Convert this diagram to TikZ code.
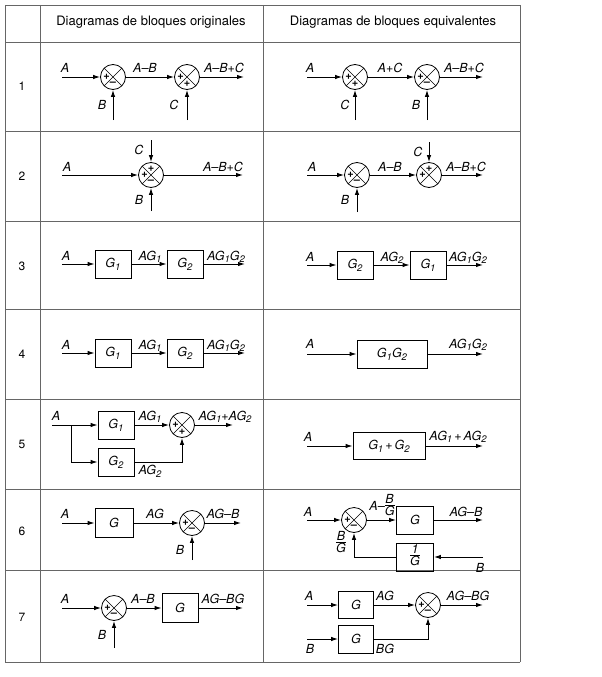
\documentclass[tikz,border=0pt]{standalone}
\usepackage{fontspec}
\setmainfont{TeX Gyre Heros}
\usetikzlibrary{arrows.meta,calc}
\newcommand\sbs[1]{\raisebox{-0.45ex}{\fontsize{9.5}{10}\selectfont #1}}
\newcommand\frc[2]{$\vcenter{\hbox{\begin{tabular}{@{}c@{}}#1\\[-3pt]\hline\rule{0pt}{10pt}#2\end{tabular}}}$}
\begin{document}
\begin{tikzpicture}[x=1pt,y=-1pt,
  tline/.style={draw=black!60,line width=0.6pt},
  arr/.style={draw,line width=1pt,-{Latex[length=7pt,width=4.5pt]}},
  sumj/.style={circle,draw,line width=0.8pt,minimum size=25pt,inner sep=0pt,
    path picture={\draw[line width=0.5pt] (path picture bounding box.north west) -- (path picture bounding box.south east)
      (path picture bounding box.north east) -- (path picture bounding box.south west);}},
  blk/.style={draw,line width=0.8pt,minimum width=36pt,minimum height=28pt,inner sep=1pt,font=\fontsize{12.5}{13}\selectfont\itshape},
  lbl/.style={inner sep=0pt,font=\fontsize{12.5}{13}\selectfont\itshape},
  lab/.style={lbl,anchor=base},
  sgn/.style={inner sep=0pt,font=\fontsize{11}{11}\selectfont\bfseries},
  hdr/.style={inner sep=0pt,font=\fontsize{13}{15}\selectfont},
  num/.style={inner sep=0pt,font=\fontsize{12}{13}\selectfont}]
\useasboundingbox (0,0) rectangle (602,677);
% table
\foreach \yy in {5,42,131,221,309,399,489,570,662} \draw[tline] (5,\yy) -- (520,\yy);
\foreach \xx in {5,40,263,520} \draw[tline] (\xx,5) -- (\xx,662);
\node[hdr] (h1) at (151,22) {Diagramas de bloques originales};
\node[hdr] (h2) at (393,22) {Diagramas de bloques equivalentes};
\node[num] (n1) at (22,86) {1};
\node[num] (n2) at (22,176) {2};
\node[num] (n3) at (22,266) {3};
\node[num] (n4) at (22,354) {4};
\node[num] (n5) at (22,444) {5};
\node[num] (n6) at (22,531) {6};
\node[num] (n7) at (22,617) {7};

% ---------- row 1 left
\node[sumj] (s1a) at (113,77) {};
\node[sumj] (s1b) at (187,77) {};
\coordinate (i1a) at (62,77); \coordinate (o1a) at (244,77);
\coordinate (b1a) at (113,120); \coordinate (c1a) at (187,120);
\draw[arr] (i1a) -- (s1a); \draw[arr] (s1a) -- (s1b); \draw[arr] (s1b) -- (o1a);
\draw[arr] (b1a) -- (s1a); \draw[arr] (c1a) -- (s1b);
\node[lab] (t1a) at (65,73) {A};
\node[lab] (t1b) at (145,73) {A–B};
\node[lab] (t1c) at (224,73) {A–B+C};
\node[lbl] (t1d) at (102,105) {B};
\node[lbl] (t1e) at (174,105) {C};
\node[sgn] (g1a) at ($(s1a)+(-6.5,0)$) {+}; \node[sgn] (g1b) at ($(s1a)+(0,6.5)$) {–};
\node[sgn] (g1c) at ($(s1b)+(-6.5,0)$) {+}; \node[sgn] (g1d) at ($(s1b)+(0,6.5)$) {+};
% ---------- row 1 right
\node[sumj] (s1c) at (355,77) {};
\node[sumj] (s1d) at (427,77) {};
\coordinate (i1b) at (307,77); \coordinate (o1b) at (483,77);
\coordinate (c1b) at (355,120); \coordinate (b1b) at (427,120);
\draw[arr] (i1b) -- (s1c); \draw[arr] (s1c) -- (s1d); \draw[arr] (s1d) -- (o1b);
\draw[arr] (c1b) -- (s1c); \draw[arr] (b1b) -- (s1d);
\node[lab] (t1f) at (310,73) {A};
\node[lab] (t1g) at (390,73) {A+C};
\node[lab] (t1h) at (464,73) {A–B+C};
\node[lbl] (t1i) at (345,105) {C};
\node[lbl] (t1j) at (416,105) {B};
\node[sgn] (g1e) at ($(s1c)+(-6.5,0)$) {+}; \node[sgn] (g1f) at ($(s1c)+(0,6.5)$) {+};
\node[sgn] (g1g) at ($(s1d)+(-6.5,0)$) {+}; \node[sgn] (g1h) at ($(s1d)+(0,6.5)$) {–};

% ---------- row 2 left
\node[sumj] (s2a) at (151,175) {};
\coordinate (i2a) at (62,175); \coordinate (o2a) at (243,175);
\coordinate (c2a) at (151,140); \coordinate (b2a) at (151,211);
\draw[arr] (i2a) -- (s2a); \draw[arr] (s2a) -- (o2a);
\draw[arr] (c2a) -- (s2a); \draw[arr] (b2a) -- (s2a);
\node[lab] (t2a) at (67,171) {A};
\node[lab] (t2b) at (223,171) {A–B+C};
\node[lbl] (t2c) at (139,150) {C};
\node[lbl] (t2d) at (139,200) {B};
\node[sgn] (g2a) at ($(s2a)+(0,-6.5)$) {+}; \node[sgn] (g2b) at ($(s2a)+(-6.5,0)$) {+};
\node[sgn] (g2c) at ($(s2a)+(0,6.5)$) {–};
% ---------- row 2 right
\node[sumj] (s2b) at (357,175) {};
\node[sumj] (s2c) at (429,175) {};
\coordinate (i2b) at (307,175); \coordinate (o2b) at (483,175);
\coordinate (b2b) at (357,212); \coordinate (c2b) at (429,142);
\draw[arr] (i2b) -- (s2b); \draw[arr] (s2b) -- (s2c); \draw[arr] (s2c) -- (o2b);
\draw[arr] (b2b) -- (s2b); \draw[arr] (c2b) -- (s2c);
\node[lab] (t2e) at (312,171) {A};
\node[lab] (t2f) at (390,171) {A–B};
\node[lab] (t2g) at (466,171) {A–B+C};
\node[lbl] (t2h) at (418,152) {C};
\node[lbl] (t2i) at (345,200) {B};
\node[sgn] (g2d) at ($(s2b)+(-6.5,0)$) {+}; \node[sgn] (g2e) at ($(s2b)+(0,6.5)$) {–};
\node[sgn] (g2f) at ($(s2c)+(0,-6.5)$) {+}; \node[sgn] (g2g) at ($(s2c)+(-6.5,0)$) {+};

% ---------- row 3 left
\node[blk] (k3a) at (113,264) {G\sbs{1}};
\node[blk] (k3b) at (185,264) {G\sbs{2}};
\coordinate (i3a) at (62,264); \coordinate (o3a) at (245,264);
\draw[arr] (i3a) -- (k3a); \draw[arr] (k3a) -- (k3b); \draw[arr] (k3b) -- (o3a);
\node[lab] (t3a) at (66,260) {A};
\node[lab] (t3b) at (150,260) {AG\sbs{1}};
\node[lab] (t3c) at (226,260) {AG\sbs{1}G\sbs{2}};
% ---------- row 3 right
\node[blk] (k3c) at (355,265) {G\sbs{2}};
\node[blk] (k3d) at (428,265) {G\sbs{1}};
\coordinate (i3b) at (307,265); \coordinate (o3b) at (483,265);
\draw[arr] (i3b) -- (k3c); \draw[arr] (k3c) -- (k3d); \draw[arr] (k3d) -- (o3b);
\node[lab] (t3d) at (310,261) {A};
\node[lab] (t3e) at (392,261) {AG\sbs{2}};
\node[lab] (t3f) at (468,261) {AG\sbs{1}G\sbs{2}};

% ---------- row 4 left
\node[blk] (k4a) at (113,353) {G\sbs{1}};
\node[blk] (k4b) at (185,353) {G\sbs{2}};
\coordinate (i4a) at (62,353); \coordinate (o4a) at (245,353);
\draw[arr] (i4a) -- (k4a); \draw[arr] (k4a) -- (k4b); \draw[arr] (k4b) -- (o4a);
\node[lab] (t4a) at (66,349) {A};
\node[lab] (t4b) at (150,349) {AG\sbs{1}};
\node[lab] (t4c) at (226,349) {AG\sbs{1}G\sbs{2}};
% ---------- row 4 right
\node[blk,minimum width=70pt] (k4c) at (392,354) {G\sbs{1}G\sbs{2}};
\coordinate (i4b) at (307,354); \coordinate (o4b) at (483,354);
\draw[arr] (i4b) -- (k4c); \draw[arr] (k4c) -- (o4b);
\node[lab] (t4d) at (310,348) {A};
\node[lab] (t4e) at (468,348) {AG\sbs{1}G\sbs{2}};

% ---------- row 5 left
\node[blk] (k5a) at (116,425) {G\sbs{1}};
\node[blk] (k5b) at (116,462) {G\sbs{2}};
\node[sumj] (s5a) at (182,425) {};
\coordinate (i5a) at (52,425); \coordinate (p5a) at (71,425); \coordinate (o5a) at (233,425);
\draw[arr] (i5a) -- (k5a); \draw[arr] (p5a) |- (k5b); \draw[arr] (k5a) -- (s5a);
\draw[arr] (k5b) -| (s5a); \draw[arr] (s5a) -- (o5a);
\node[lab] (t5a) at (56,420) {A};
\node[lab] (t5b) at (150,420) {AG\sbs{1}};
\node[lab] (t5c) at (225,420) {AG\sbs{1}+AG\sbs{2}};
\node[lbl] (t5d) at (150,471) {AG\sbs{2}};
\node[sgn] (g5a) at ($(s5a)+(-6.5,0)$) {+}; \node[sgn] (g5b) at ($(s5a)+(0,6.5)$) {+};
% ---------- row 5 right
\node[blk,minimum width=72pt,minimum height=27pt] (k5c) at (389,446) {G\sbs{1}\,+\,G\sbs{2}};
\coordinate (i5b) at (307,446); \coordinate (o5b) at (483,446);
\draw[arr] (i5b) -- (k5c); \draw[arr] (k5c) -- (o5b);
\node[lab] (t5e) at (308,441) {A};
\node[lab] (t5f) at (458,440) {AG\sbs{1}\,+\,AG\sbs{2}};

% ---------- row 6 left
\node[blk,minimum width=38pt,minimum height=29pt] (k6a) at (114,523) {G};
\node[sumj] (s6a) at (192,523) {};
\coordinate (i6a) at (62,523); \coordinate (o6a) at (241,523); \coordinate (b6a) at (192,560);
\draw[arr] (i6a) -- (k6a); \draw[arr] (k6a) -- (s6a); \draw[arr] (s6a) -- (o6a);
\draw[arr] (b6a) -- (s6a);
\node[lab] (t6a) at (65,518) {A};
\node[lab] (t6b) at (155,518) {AG};
\node[lab] (t6c) at (223,518) {AG–B};
\node[lbl] (t6d) at (180,550) {B};
\node[sgn] (g6a) at ($(s6a)+(-6.5,0)$) {+}; \node[sgn] (g6b) at ($(s6a)+(0,6.5)$) {–};
% ---------- row 6 right
\node[sumj] (s6b) at (354,520) {};
\node[blk,minimum width=37pt] (k6b) at (415,520) {G};
\node[blk,minimum width=37pt] (k6c) at (415,557) {\frc{1}{G}};
\coordinate (i6b) at (307,520); \coordinate (o6b) at (483,520); \coordinate (b6b) at (483,557);
\draw[arr] (i6b) -- (s6b); \draw[arr] (s6b) -- (k6b); \draw[arr] (k6b) -- (o6b);
\draw[arr] (b6b) -- (k6c); \draw[arr] (k6c) -| (s6b);
\node[lab] (t6e) at (308,516) {A};
\node[lbl] (t6f) at (382,507) {A–\frc{B}{G}};
\node[lab] (t6g) at (466,516) {AG–B};
\node[lbl] (t6h) at (480,568) {B};
\node[lbl] (t6i) at (341,544) {\frc{B}{G}};
\node[sgn] (g6c) at ($(s6b)+(-6.5,0)$) {+}; \node[sgn] (g6d) at ($(s6b)+(0,6.5)$) {–};

% ---------- row 7 left
\node[sumj] (s7a) at (114,608) {};
\node[blk,minimum height=29pt] (k7a) at (180,608) {G};
\coordinate (i7a) at (62,608); \coordinate (o7a) at (243,608); \coordinate (b7a) at (114,648);
\draw[arr] (i7a) -- (s7a); \draw[arr] (s7a) -- (k7a); \draw[arr] (k7a) -- (o7a);
\draw[arr] (b7a) -- (s7a);
\node[lab] (t7a) at (65,603) {A};
\node[lab] (t7b) at (143,603) {A–B};
\node[lab] (t7c) at (223,603) {AG–BG};
\node[lbl] (t7d) at (102,635) {B};
\node[sgn] (g7a) at ($(s7a)+(-6.5,0)$) {+}; \node[sgn] (g7b) at ($(s7a)+(0,6.5)$) {–};
% ---------- row 7 right
\node[blk,minimum width=35pt,minimum height=27pt] (k7b) at (356,605) {G};
\node[blk,minimum width=35pt,minimum height=28pt] (k7c) at (356,639) {G};
\node[sumj] (s7b) at (428,605) {};
\coordinate (i7b) at (307,605); \coordinate (o7b) at (483,605); \coordinate (b7b) at (307,639);
\draw[arr] (i7b) -- (k7b); \draw[arr] (k7b) -- (s7b); \draw[arr] (s7b) -- (o7b);
\draw[arr] (b7b) -- (k7c); \draw[arr] (k7c) -| (s7b);
\node[lab] (t7e) at (309,600) {A};
\node[lab] (t7f) at (385,600) {AG};
\node[lab] (t7g) at (468,600) {AG–BG};
\node[lbl] (t7h) at (310,649) {B};
\node[lbl] (t7i) at (385,649) {BG};
\node[sgn] (g7c) at ($(s7b)+(-6.5,0)$) {+}; \node[sgn] (g7d) at ($(s7b)+(0,6.5)$) {–};
\end{tikzpicture}
\end{document}
